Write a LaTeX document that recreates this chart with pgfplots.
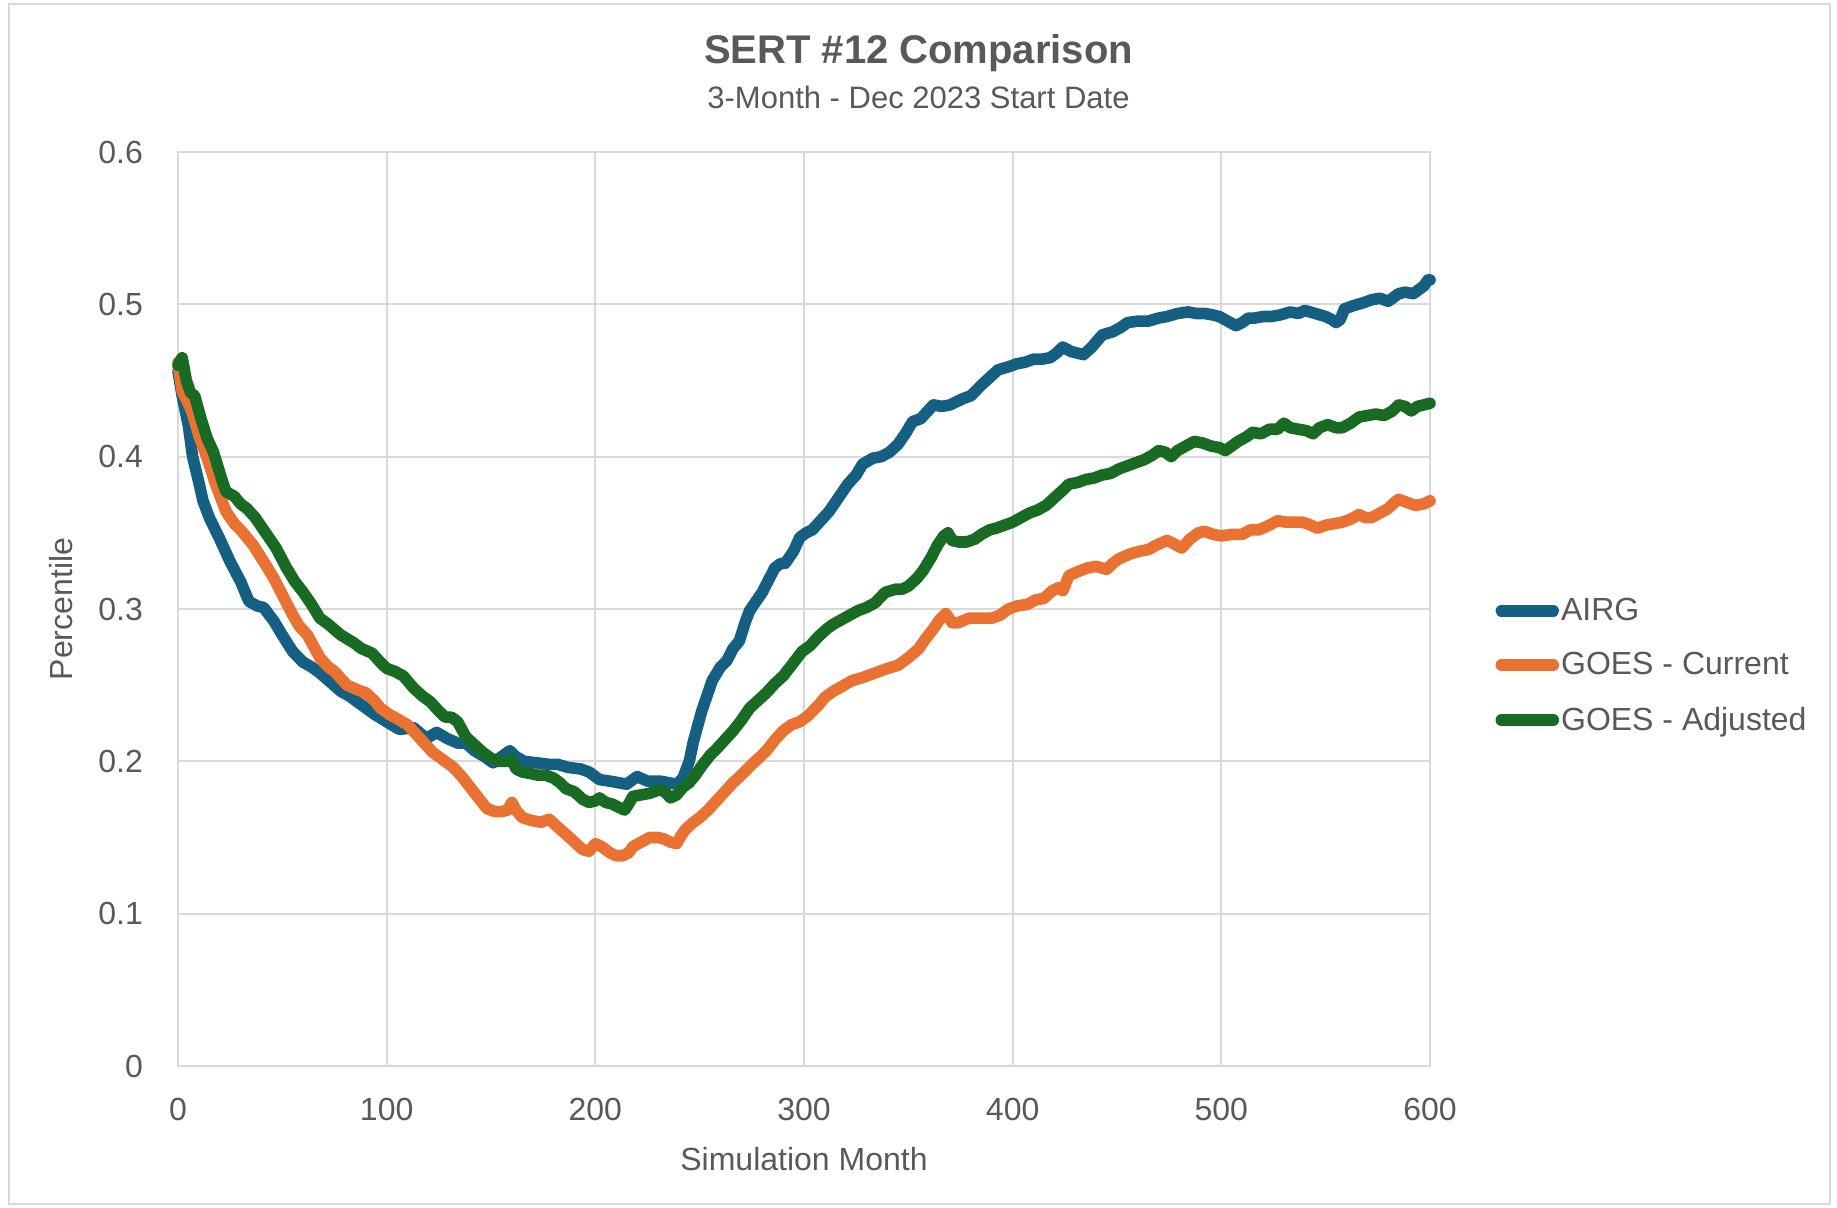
\documentclass[border=0pt]{standalone}
\usepackage{pgfplots}
\pgfplotsset{compat=1.18}
\usepackage{fontspec}
\setmainfont{Liberation Sans}
\definecolor{cBlue}{HTML}{156082}
\definecolor{cOrange}{HTML}{E97132}
\definecolor{cGreen}{HTML}{196B24}
\definecolor{cGrid}{HTML}{D9D9D9}
\definecolor{cText}{HTML}{595959}
\begin{document}
\begin{tikzpicture}
\fill[white] (0pt,0pt) rectangle (918.5pt,603.5pt);
\draw[cGrid, line width=1pt] (4.5pt,1.5pt) rectangle (915pt,601.5pt);
\node[text=cText, font=\bfseries\fontsize{20}{24}\selectfont] at (459.25pt,577pt) {SERT \#12 Comparison};
\node[text=cText, font=\fontsize{15.5}{18}\selectfont] at (459.25pt,555pt) {3-Month - Dec 2023 Start Date};
\begin{axis}[
  at={(89pt,70.5pt)}, anchor=south west,
  scale only axis, width=626pt, height=457pt,
  xmin=0, xmax=600, ymin=0, ymax=0.6,
  xtick={0,100,...,600}, ytick={0,0.1,...,0.6},
  yticklabel style={/pgf/number format/fixed, /pgf/number format/precision=1},
  /pgf/number format/assume math mode=true,
  grid=major, major grid style={cGrid, line width=0.9pt},
  axis line style={cGrid, line width=0.9pt},
  major tick length=0pt,
  tick label style={text=cText, font=\fontsize{16}{19}\selectfont},
  xticklabel style={yshift=-12.5pt},
  yticklabel style={xshift=-14pt},
  xlabel={Simulation Month}, ylabel={Percentile},
  label style={text=cText, font=\fontsize{16}{19}\selectfont},
  xlabel style={yshift=-6.5pt},
  ylabel style={yshift=6pt},
  clip=false,
  legend style={at={(1.052,0.438)}, anchor=west, draw=none, fill=none,
    font=\fontsize{16}{19}\selectfont, text=cText, row sep=10.5pt,
    inner sep=0pt, nodes={inner xsep=1pt}},
  legend cell align=left,
  legend image code/.code={\draw[#1, line cap=round] (0pt,0pt) -- (26pt,0pt);},
  every axis plot/.append style={line width=5.8pt, line join=round, line cap=round, mark=none},
]
\addplot[cBlue] coordinates {
(0,0.456)(2,0.44)(5,0.42)(7,0.40)(10,0.383)(12,0.371)(15,0.36)(20,0.346)(25,0.331)(30,0.318)(34,0.305)(38,0.302)(41,0.301)(46,0.292)(49,0.285)(55,0.272)(60,0.265)(64,0.262)(68,0.258)(73,0.252)(78,0.246)(82,0.243)(86,0.239)(90,0.235)(94,0.231)(100,0.226)(106,0.221)(113,0.222)(119,0.215)(124,0.219)(129,0.215)(134,0.212)(138,0.212)(142,0.207)(147,0.203)(151,0.199)(155,0.203)(159,0.207)(162,0.203)(166,0.200)(172,0.199)(178,0.198)(182,0.198)(187,0.196)(193,0.195)(197,0.193)(202,0.188)(207,0.187)(211,0.186)(215,0.185)(220,0.190)(225,0.187)(231,0.187)(235,0.186)(239,0.185)(242,0.189)(245,0.200)(247,0.213)(251,0.233)(256,0.253)(260,0.262)(263,0.266)(266,0.274)(269,0.279)(272,0.292)(274,0.299)(277,0.305)(280,0.311)(283,0.319)(286,0.327)(289,0.330)(291,0.330)(295,0.338)(298,0.347)(301,0.350)(304,0.352)(308,0.358)(312,0.364)(316,0.372)(321,0.382)(325,0.388)(328,0.395)(333,0.399)(337,0.400)(341,0.403)(345,0.408)(349,0.416)(352,0.423)(356,0.425)(362,0.434)(366,0.433)(370,0.434)(376,0.438)(380,0.440)(385,0.447)(389,0.452)(393,0.457)(398,0.459)(402,0.461)(406,0.462)(410,0.464)(414,0.464)(418,0.465)(421,0.468)(424,0.472)(428,0.469)(431,0.468)(434,0.467)(438,0.472)(443,0.480)(448,0.482)(452,0.485)(455,0.488)(460,0.489)(465,0.489)(470,0.491)(474,0.492)(479,0.494)(484,0.495)(488,0.494)(492,0.494)(496,0.493)(499,0.492)(503,0.489)(507,0.486)(510,0.488)(513,0.491)(516,0.491)(520,0.492)(524,0.492)(528,0.493)(533,0.495)(537,0.494)(540,0.496)(545,0.494)(550,0.492)(553,0.490)(555,0.488)(557,0.490)(559,0.497)(563,0.499)(568,0.501)(572,0.503)(576,0.504)(580,0.502)(585,0.507)(588,0.508)(592,0.507)(595,0.510)(597,0.512)(599,0.516)(600,0.516)
};
\addlegendentry{AIRG}
\addplot[cOrange] coordinates {
(0,0.462)(2,0.443)(5,0.435)(7,0.428)(10,0.414)(14,0.399)(18,0.382)(23,0.364)(27,0.356)(30,0.352)(36,0.342)(42,0.329)(46,0.320)(49,0.312)(55,0.296)(58,0.289)(62,0.283)(68,0.268)(72,0.262)(75,0.259)(81,0.250)(86,0.247)(90,0.245)(94,0.240)(97,0.235)(101,0.231)(105,0.228)(110,0.224)(114,0.218)(118,0.212)(122,0.206)(127,0.201)(132,0.196)(136,0.190)(140,0.183)(144,0.176)(148,0.169)(152,0.167)(155,0.167)(158,0.168)(160,0.173)(162,0.168)(165,0.163)(170,0.161)(174,0.160)(178,0.162)(181,0.158)(186,0.152)(190,0.147)(194,0.142)(197,0.141)(200,0.146)(203,0.144)(207,0.140)(210,0.138)(213,0.138)(216,0.140)(218,0.144)(222,0.147)(226,0.150)(230,0.150)(233,0.149)(236,0.147)(239,0.146)(241,0.151)(243,0.155)(247,0.160)(250,0.163)(254,0.168)(258,0.174)(262,0.180)(266,0.186)(270,0.191)(275,0.198)(279,0.203)(282,0.207)(286,0.214)(290,0.220)(294,0.224)(298,0.226)(302,0.230)(307,0.237)(310,0.242)(314,0.246)(318,0.249)(323,0.253)(328,0.255)(332,0.257)(336,0.259)(340,0.261)(345,0.263)(350,0.268)(355,0.274)(358,0.280)(362,0.287)(365,0.293)(368,0.297)(371,0.291)(374,0.291)(379,0.294)(384,0.294)(390,0.294)(394,0.296)(398,0.300)(402,0.302)(407,0.303)(411,0.306)(415,0.307)(419,0.312)(422,0.314)(424,0.312)(427,0.322)(432,0.325)(436,0.327)(440,0.328)(445,0.326)(448,0.330)(451,0.333)(456,0.336)(461,0.338)(465,0.339)(469,0.342)(474,0.345)(477,0.343)(481,0.340)(485,0.346)(489,0.350)(492,0.351)(496,0.349)(500,0.348)(505,0.349)(510,0.349)(514,0.352)(518,0.352)(523,0.355)(527,0.358)(531,0.357)(535,0.357)(539,0.357)(543,0.355)(546,0.353)(550,0.355)(554,0.356)(558,0.357)(562,0.359)(566,0.362)(569,0.360)(572,0.360)(576,0.363)(580,0.366)(583,0.370)(585,0.372)(589,0.370)(593,0.368)(597,0.369)(600,0.371)
};
\addlegendentry{GOES - Current}
\addplot[cGreen] coordinates {
(0,0.46)(2,0.465)(4,0.450)(6,0.442)(8,0.440)(11,0.425)(14,0.412)(17,0.403)(21,0.385)(23,0.377)(27,0.374)(30,0.369)(33,0.366)(37,0.360)(40,0.354)(44,0.346)(47,0.340)(52,0.327)(56,0.318)(60,0.311)(64,0.303)(68,0.294)(72,0.290)(78,0.283)(84,0.278)(88,0.274)(93,0.271)(97,0.265)(100,0.261)(104,0.259)(108,0.256)(113,0.248)(117,0.243)(121,0.239)(125,0.233)(128,0.229)(131,0.229)(134,0.226)(138,0.216)(142,0.211)(146,0.206)(150,0.202)(154,0.200)(158,0.200)(160,0.201)(162,0.195)(165,0.193)(169,0.192)(172,0.191)(176,0.191)(180,0.189)(183,0.186)(186,0.182)(190,0.180)(194,0.175)(197,0.173)(200,0.174)(202,0.176)(205,0.173)(208,0.172)(211,0.170)(214,0.168)(216,0.172)(218,0.177)(222,0.178)(226,0.179)(230,0.181)(232,0.181)(234,0.179)(236,0.176)(239,0.178)(242,0.183)(245,0.186)(248,0.191)(251,0.197)(255,0.204)(258,0.208)(262,0.214)(266,0.220)(270,0.227)(274,0.235)(278,0.240)(282,0.245)(286,0.251)(290,0.256)(294,0.263)(299,0.272)(303,0.276)(307,0.282)(311,0.287)(314,0.290)(318,0.293)(322,0.296)(326,0.299)(330,0.301)(334,0.304)(339,0.311)(344,0.313)(347,0.313)(350,0.315)(354,0.320)(357,0.325)(361,0.334)(364,0.342)(367,0.348)(369,0.350)(371,0.345)(374,0.344)(378,0.344)(382,0.346)(385,0.349)(389,0.352)(392,0.353)(396,0.355)(400,0.357)(404,0.360)(408,0.363)(412,0.365)(416,0.368)(420,0.373)(424,0.378)(427,0.382)(431,0.383)(435,0.385)(439,0.386)(443,0.388)(447,0.389)(451,0.392)(455,0.394)(459,0.396)(463,0.398)(467,0.401)(470,0.404)(473,0.403)(476,0.400)(479,0.404)(483,0.407)(487,0.410)(491,0.409)(495,0.407)(499,0.406)(502,0.404)(505,0.407)(508,0.410)(512,0.413)(515,0.416)(519,0.415)(523,0.418)(527,0.418)(530,0.422)(533,0.419)(537,0.418)(541,0.417)(544,0.415)(547,0.419)(551,0.421)(555,0.419)(558,0.419)(562,0.422)(566,0.426)(570,0.427)(574,0.428)(578,0.427)(582,0.430)(585,0.434)(588,0.433)(591,0.430)(594,0.433)(597,0.434)(600,0.435)
};
\addlegendentry{GOES - Adjusted}
\end{axis}
\end{tikzpicture}
\end{document}
